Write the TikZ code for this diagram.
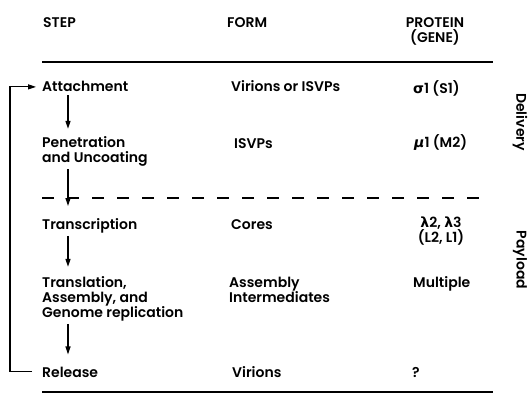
\documentclass[tikz,border=0pt]{standalone}
\usepackage{fontspec}
\setmainfont{Poppins}[BoldFont={Poppins SemiBold}]
\newfontfamily\grk{DejaVu Sans}
\usetikzlibrary{arrows.meta}
\begin{document}
\begin{tikzpicture}[x=1pt,y=-1pt,
  txt/.style={inner sep=0pt, font=\fontsize{14}{15}\selectfont\bfseries, anchor=base west, align=left},
  ctxt/.style={inner sep=0pt, font=\fontsize{14}{15}\selectfont\bfseries, anchor=base, align=center},
  side/.style={inner sep=0pt, font=\fontsize{14}{15}\selectfont\bfseries, rotate=-90},
  rule/.style={line width=1.3pt},
  arr/.style={line width=1.3pt, -{Triangle[length=8pt,width=5pt]}},
  loopline/.style={line width=1.1pt}
]
\useasboundingbox (0,0) rectangle (529,401);
% headers
\node[txt] (hStep) at (43,28) {STEP};
\node[txt] (hForm) at (227,28) {FORM};
\node[ctxt] (hProt) at (435,43) {PROTEIN\\(GENE)};
% rules
\coordinate (r1a) at (42,62); \coordinate (r1b) at (493,62);
\draw[rule] (r1a) -- (r1b);
\coordinate (d1a) at (42,198); \coordinate (d1b) at (488,198);
\draw[rule, dash pattern=on 12pt off 13pt] (d1a) -- (d1b);
\coordinate (r2a) at (42,392); \coordinate (r2b) at (493,392);
\draw[rule] (r2a) -- (r2b);
% steps
\node[txt] (sAtt) at (42,92) {Attachment};
\node[txt] (sPen) at (42,162) {Penetration\\and Uncoating};
\node[txt] (sTra) at (42,229) {Transcription};
\node[txt] (sTrl) at (42,317) {Translation,\\Assembly, and\\Genome replication};
\node[txt] (sRel) at (42,377) {Release};
% forms
\node[txt] (fAtt) at (231,92) {Virions or ISVPs};
\node[txt] (fPen) at (234,148) {ISVPs};
\node[txt] (fTra) at (231,229) {Cores};
\node[txt] (fTrl) at (229,302) {Assembly\\Intermediates};
\node[txt] (fRel) at (232,377) {Virions};
% proteins
\node[txt] (pAtt) at (413,93) {{\grk σ}1 (S1)};
\node[txt] (pPen) at (414,147) {{\grk\itshape μ}1 (M2)};
\node[ctxt] (pTra) at (441,242) {{\grk λ}2, {\grk λ}3\\(L2, L1)};
\node[txt] (pTrl) at (413,287) {Multiple};
\node[txt] (pRel) at (412,377) {?};
% side labels
\node[side] (delivery) at (520,122) {Delivery};
\node[side] (payload) at (520,260) {Payload};
% step arrows
\coordinate (ax) at (68,0);
\draw[arr, shorten <=3pt, shorten >=7pt] (sAtt.south -| ax) -- (sPen.north -| ax);
\draw[arr, shorten <=3pt] (sPen.south -| ax) -- ([yshift=-8pt]d1a -| ax);
\draw[arr, shorten <=3pt, shorten >=9pt] (sTra.south -| ax) -- (sTrl.north -| ax);
\draw[arr, shorten <=3pt, shorten >=12pt] (sTrl.south -| ax) -- (sRel.north -| ax);
% loop back
\coordinate (lx) at (10,0);
\draw[loopline, -{Triangle[length=8pt,width=5pt]}] ([xshift=-10pt]sRel.west) -| (lx |- sAtt.west) -- ([xshift=-6pt]sAtt.west);
\end{tikzpicture}
\end{document}
